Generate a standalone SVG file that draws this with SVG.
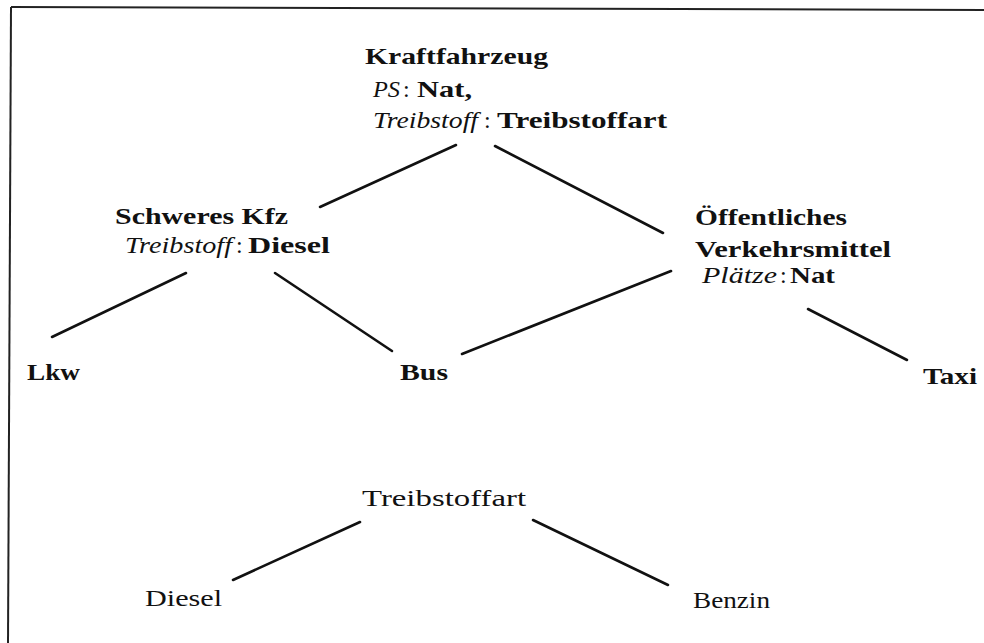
<svg xmlns="http://www.w3.org/2000/svg" width="984" height="643" viewBox="0 0 984 643">
<style>
text{font-family:"Liberation Serif","DejaVu Serif","Times New Roman",serif;font-size:24px;fill:#111}
.b{font-weight:bold}
.i{font-style:italic}
.e line{stroke:#111;stroke-width:2.6;stroke-linecap:round}
.f line{stroke:#222;stroke-width:2}
</style>
<rect width="984" height="643" fill="#fff"/>
<g class="f" id="frame">
<line x1="11" y1="7" x2="984" y2="10"/>
<line x1="11" y1="7" x2="8" y2="643"/>
</g>
<g class="e" id="connectors">
<line x1="320" y1="207" x2="456" y2="145"/>
<line x1="495" y1="146" x2="663" y2="233"/>
<line x1="186" y1="273" x2="52" y2="337"/>
<line x1="275" y1="273" x2="392" y2="351"/>
<line x1="462" y1="354" x2="671" y2="271"/>
<line x1="808" y1="309" x2="907" y2="360"/>
<line x1="360" y1="522" x2="233" y2="580"/>
<line x1="533" y1="520" x2="668" y2="585"/>
</g>
<g id="kraftfahrzeug">
<text class="b" x="365" y="64" textLength="183" lengthAdjust="spacingAndGlyphs">Kraftfahrzeug</text>
<text class="i" x="373" y="97" textLength="27" lengthAdjust="spacingAndGlyphs">PS</text>
<text x="403" y="97">:</text>
<text class="b" x="417" y="97" textLength="55" lengthAdjust="spacingAndGlyphs">Nat,</text>
<text class="i" x="373" y="128" textLength="105" lengthAdjust="spacingAndGlyphs">Treibstoff</text>
<text x="484" y="128">:</text>
<text class="b" x="497" y="128" textLength="170" lengthAdjust="spacingAndGlyphs">Treibstoffart</text>
</g>
<g id="schweres-kfz">
<text class="b" x="115" y="224" textLength="173" lengthAdjust="spacingAndGlyphs">Schweres Kfz</text>
<text class="i" x="125" y="253" textLength="107" lengthAdjust="spacingAndGlyphs">Treibstoff</text>
<text x="236" y="253">:</text>
<text class="b" x="248" y="253" textLength="82" lengthAdjust="spacingAndGlyphs">Diesel</text>
</g>
<g id="oeffentliches">
<text class="b" x="695" y="225" textLength="152" lengthAdjust="spacingAndGlyphs">Öffentliches</text>
<text class="b" x="695" y="257" textLength="196" lengthAdjust="spacingAndGlyphs">Verkehrsmittel</text>
<text class="i" x="702" y="283" textLength="75" lengthAdjust="spacingAndGlyphs">Plätze</text>
<text x="780" y="283">:</text>
<text class="b" x="790" y="283" textLength="45" lengthAdjust="spacingAndGlyphs">Nat</text>
</g>
<g id="lkw"><text class="b" x="27" y="380" textLength="53" lengthAdjust="spacingAndGlyphs">Lkw</text></g>
<g id="bus"><text class="b" x="400" y="380" textLength="48" lengthAdjust="spacingAndGlyphs">Bus</text></g>
<g id="taxi"><text class="b" x="923" y="384" textLength="54" lengthAdjust="spacingAndGlyphs">Taxi</text></g>
<g id="treibstoffart"><text x="362" y="506" textLength="164" lengthAdjust="spacingAndGlyphs">Treibstoffart</text></g>
<g id="diesel"><text x="145" y="606" textLength="77" lengthAdjust="spacingAndGlyphs">Diesel</text></g>
<g id="benzin"><text x="693" y="608" textLength="77" lengthAdjust="spacingAndGlyphs">Benzin</text></g>
</svg>
